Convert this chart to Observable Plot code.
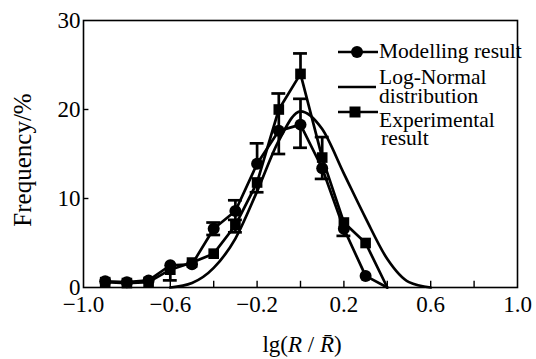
<!DOCTYPE html>
<html>
<head>
<meta charset="utf-8">
<script src="https://cdn.jsdelivr.net/npm/d3@7"></script>
<script src="https://cdn.jsdelivr.net/npm/@observablehq/plot@0.6"></script>
<style>
  html, body { margin: 0; padding: 0; background: #fff; }
  #chart { width: 536px; height: 359px; }
  #chart svg, #chart svg text { font-family: "Liberation Serif", "DejaVu Serif", serif !important; }
</style>
</head>
<body>
<div id="chart"></div>
<script>
// ---- data ----
const xValues      = [-0.9, -0.8, -0.7, -0.6, -0.5, -0.4, -0.3, -0.2, -0.1, 0, 0.1, 0.2, 0.3, 0.4];
const modelling    = [0.7, 0.6, 0.8, 2.5, 2.6, 6.6, 8.6, 13.9, 17.6, 18.3, 13.4, 6.6, 1.3, 0];
const modellingLow = [0.7, 0.6, 0.8, 0.8, 2.6, 5.9, 7.6, 13.9, 15.0, 15.7, 12.2, 6.6, 1.3, 0];
const modellingHigh= [0.7, 0.6, 0.8, 2.5, 2.6, 7.3, 9.8, 16.2, 21.8, 21.2, 13.4, 6.6, 1.3, 0];
const experimental    = [0.6, 0.5, 0.6, 2.0, 2.8, 3.8, 7.0, 11.8, 20.0, 24.0, 14.6, 7.3, 5.0, 0];
const experimentalLow = [0.6, 0.5, 0.6, 2.0, 2.8, 3.8, 6.2, 10.7, 20.0, 24.0, 14.6, 5.8, 5.0, 0];
const experimentalHigh= [0.6, 0.5, 0.6, 2.0, 2.8, 3.8, 7.0, 11.8, 20.0, 26.3, 16.9, 7.3, 5.0, 0];
const logNormalX = [-0.6, -0.5, -0.4, -0.3, -0.2, -0.1, 0, 0.1, 0.2, 0.3, 0.4, 0.5, 0.6];
const logNormalY = [0, 0.5, 2.2, 5.5, 10.8, 16.5, 19.8, 17.8, 12.8, 7.8, 3.2, 0.6, 0];
const xTickLabels = [-1.0, -0.6, -0.2, 0.2, 0.6, 1.0];
const xMinorTicks = [-0.8, -0.6, -0.4, -0.2, 0, 0.2, 0.4, 0.6, 0.8];
const yTickLabels = [0, 10, 20, 30];
const yMinorTicks = [10, 20];
const legendLabels = ["Modelling result", "Log-Normal", "distribution", "Experimental", "result"];
const xAxisTitle = ["lg(", "R", " / ", "R\u0304", ")"];
const yAxisTitle = "Frequency/%";

// ---- tables ----
const model = xValues.map((x, i) => ({x, y: modelling[i], lo: modellingLow[i], hi: modellingHigh[i]}));
const expt = xValues.map((x, i) => ({x, y: experimental[i], lo: experimentalLow[i], hi: experimentalHigh[i]}));
const logn = logNormalX.map((x, i) => ({x, y: logNormalY[i]}));
const markerPts = arr => arr.filter(d => d.x <= 0.3);
const cap = 0.032;
const sw = 2.7;

const errMarks = arr => [
  Plot.ruleX(arr.filter(d => d.hi > d.lo), {x: "x", y1: "lo", y2: "hi", stroke: "black", strokeWidth: sw}),
  Plot.ruleY(arr.filter(d => d.hi > d.y), {y: "hi", x1: d => d.x - cap, x2: d => d.x + cap, stroke: "black", strokeWidth: sw}),
  Plot.ruleY(arr.filter(d => d.lo < d.y), {y: "lo", x1: d => d.x - cap, x2: d => d.x + cap, stroke: "black", strokeWidth: sw})
];

const chart = Plot.plot({
  width: 536,
  height: 359,
  marginLeft: 83,
  marginRight: 19,
  marginTop: 20,
  marginBottom: 72,
  x: {domain: [-1, 1]},
  y: {domain: [0, 30]},
  style: {fontFamily: "Liberation Serif", fontSize: "23px", color: "black", background: "white"},
  marks: [
    Plot.frame({stroke: "black", strokeWidth: 1.6}),
    Plot.ruleX(xMinorTicks, {x: d => d, y1: 0, y2: 0.7, stroke: "black", strokeWidth: 1.4}),
    Plot.ruleY(yMinorTicks, {y: d => d, x1: -1, x2: -0.975, stroke: "black", strokeWidth: 1.4}),
    Plot.axisX({ticks: xTickLabels, tickSize: 0, tickPadding: 8, tickFormat: d3.format(".1f"), label: null}),
    Plot.axisY({ticks: yTickLabels, tickSize: 0, tickPadding: 3, label: null}),
    Plot.line(logn, {x: "x", y: "y", curve: "monotone-x", stroke: "black", strokeWidth: sw}),
    Plot.line(model, {x: "x", y: "y", stroke: "black", strokeWidth: sw}),
    Plot.line(expt, {x: "x", y: "y", stroke: "black", strokeWidth: sw}),
    ...errMarks(model),
    ...errMarks(expt),
    Plot.dot(markerPts(model), {x: "x", y: "y", r: 6, fill: "black", stroke: "none"}),
    Plot.dot(markerPts(expt), {x: "x", y: "y", r: 6, symbol: "square", fill: "black", stroke: "none"})
  ]
});
document.getElementById("chart").appendChild(chart);

// ---- axis titles and legend (annotation) ----
const svg = d3.select(chart);
const xt = svg.append("text")
  .attr("x", 302).attr("y", 352)
  .attr("text-anchor", "middle")
  .attr("font-size", 23).attr("fill", "black");
xAxisTitle.forEach((s, i) => {
  xt.append("tspan").attr("font-style", (i === 1 || i === 3) ? "italic" : "normal").text(s);
});
svg.append("text")
  .attr("transform", "translate(22,160) rotate(-90)")
  .attr("text-anchor", "middle").attr("dy", "0.35em")
  .attr("font-size", 25).attr("fill", "black")
  .text(yAxisTitle);

const lg = svg.append("g").attr("fill", "black").attr("stroke", "black");
lg.append("line").attr("x1", 338).attr("x2", 378).attr("y1", 52).attr("y2", 52).attr("stroke-width", sw);
lg.append("circle").attr("cx", 357).attr("cy", 52).attr("r", 6).attr("stroke", "none");
lg.append("line").attr("x1", 338).attr("x2", 376).attr("y1", 87).attr("y2", 87).attr("stroke-width", sw);
lg.append("line").attr("x1", 338).attr("x2", 378).attr("y1", 112).attr("y2", 112).attr("stroke-width", sw);
lg.append("rect").attr("x", 349.5).attr("y", 106.5).attr("width", 11).attr("height", 11).attr("stroke", "none");
const lgPos = [[379, 58], [379, 84], [379, 103], [379, 127], [381, 145]];
legendLabels.forEach((t, i) => {
  lg.append("text").attr("x", lgPos[i][0]).attr("y", lgPos[i][1])
    .attr("text-anchor", "start")
    .attr("stroke", "none").attr("font-size", 21.5).text(t);
});
</script>
</body>
</html>
